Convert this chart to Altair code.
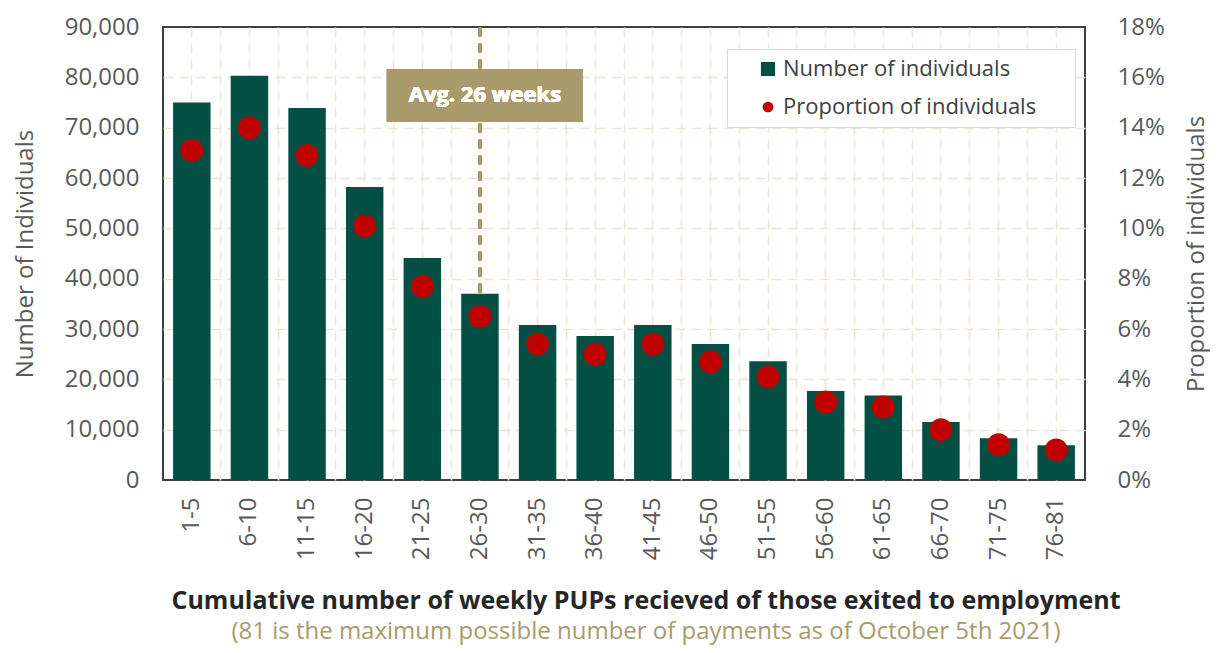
import altair as alt
import pandas as pd

categories = ["1-5", "6-10", "11-15", "16-20", "21-25", "26-30", "31-35", "36-40",
              "41-45", "46-50", "51-55", "56-60", "61-65", "66-70", "71-75", "76-81"]
counts = [75000, 80300, 73900, 58200, 44100, 37000, 30800, 28600,
          30800, 27000, 23600, 17700, 16800, 11500, 8300, 6900]
proportions = [0.131, 0.140, 0.129, 0.101, 0.077, 0.065, 0.054, 0.050,
               0.054, 0.047, 0.041, 0.031, 0.029, 0.020, 0.014, 0.012]
series_names = ["Number of individuals", "Proportion of individuals"]
avg_category = "26-30"
avg_label = "Avg. 26 weeks"
y_left_ticks = list(range(0, 90001, 10000))
y_right_ticks = [0.0, 0.02, 0.04, 0.06, 0.08, 0.10, 0.12, 0.14, 0.16, 0.18]

GREEN = "#034f43"
RED = "#c00000"
KHAKI = "#a99a6b"
GRID = "#ede4d3"
FONT = "Open Sans"

df = pd.DataFrame({"cat": categories, "count": counts, "prop": proportions,
                   "series": series_names[1]})

xscale = alt.Scale(domain=categories, paddingInner=0, paddingOuter=0)

bars = alt.Chart(df).mark_bar(color=GREEN, width=alt.RelativeBandSize(0.65)).encode(
    x=alt.X("cat:N", scale=xscale, sort=categories,
            axis=alt.Axis(title=None, labelAngle=270, labelFontSize=24, labelPadding=17,
                          grid=True, bandPosition=0.5, gridDash=[10, 6], gridColor=GRID,
                          gridWidth=1.5, labelColor="#595959", ticks=False, domain=False,
                          labelBaseline="middle", labelAlign="right")),
    y=alt.Y("count:Q", scale=alt.Scale(domain=[0, 90000], nice=False),
            axis=alt.Axis(title="Number of Individuals", values=y_left_ticks, format=",d",
                          grid=True, gridDash=[10, 6], gridColor=GRID, gridWidth=1.5,
                          gridOpacity={"condition": {"test": "datum.value <= 0 || datum.value >= 90000",
                                                     "value": 0}, "value": 1},
                          labelFontSize=24, titleFontSize=24, labelPadding=24,
                          titlePadding=27, labelColor="#595959", titleColor="#595959",
                          titleFontWeight="normal", ticks=False, domain=False)),
)

rule = alt.Chart(df).mark_rule(color=KHAKI, strokeWidth=3, strokeDash=[10, 6]).encode(
    x=alt.datum(avg_category),
    y=alt.datum(90000),
    y2=alt.datum(counts[categories.index(avg_category)]),
)

box = alt.Chart(df).mark_bar(color=KHAKI, width=196, xOffset=5).encode(
    x=alt.datum(avg_category),
    y=alt.datum(71200),
    y2=alt.datum(81600),
)

label = alt.Chart(df).mark_text(color="white", fontWeight="bold", fontSize=22, font=FONT,
                                dx=5).encode(
    x=alt.datum(avg_category),
    y=alt.datum(76400),
    text=alt.datum(avg_label),
)

left = alt.layer(bars, rule, box, label)

circle_path = "M -0.76 0 A 0.76 0.76 0 1 0 0.76 0 A 0.76 0.76 0 1 0 -0.76 0 Z"

points = alt.Chart(df).mark_point(filled=True, opacity=1, size=900).encode(
    x=alt.X("cat:N", scale=xscale, sort=categories,
            axis=alt.Axis(title=None, labels=False, ticks=False, domain=False, grid=True,
                          bandPosition=0, gridDash=[10, 6], gridColor=GRID, gridWidth=1.5,
                          gridOpacity={"condition": {"test": "datum.value === '1-5'",
                                                     "value": 0}, "value": 1},
                          orient="bottom")),
    y=alt.Y("prop:Q", scale=alt.Scale(domain=[0, 0.18], nice=False),
            axis=alt.Axis(title="Proportion of individuals", orient="right",
                          values=y_right_ticks, format=".0%", grid=False,
                          labelFontSize=24, titleFontSize=24, labelPadding=32,
                          titlePadding=44, titleAngle=270, labelColor="#595959",
                          titleColor="#595959", titleFontWeight="normal",
                          ticks=False, domain=False)),
    color=alt.Color("series:N", scale=alt.Scale(domain=series_names, range=[GREEN, RED]),
                    legend=alt.Legend(title="\u00a0", titleOrient="right", titleFontSize=22,
                                      titlePadding=30,
                                      orient="none", legendX=564, legendY=22,
                                      fillColor="white", strokeColor="#d9d9d9", padding=9,
                                      labelFontSize=22, labelColor="#404040", labelLimit=500,
                                      symbolSize=200, symbolOffset=21, labelOffset=4,
                                      rowPadding=16, symbolStrokeWidth=0)),
    shape=alt.Shape("series:N", scale=alt.Scale(domain=series_names,
                                                range=["square", circle_path])),
)

chart = alt.layer(left, points).resolve_scale(y="independent").resolve_axis(
    x="independent"
).properties(
    width=922,
    height=453,
    autosize=alt.AutoSizeParams(type="none"),
    padding={"left": 155, "top": 19, "right": 125, "bottom": 165},
    title=alt.Title(
        text="Cumulative number of weekly PUPs recieved of those exited to employment",
        subtitle="(81 is the maximum possible number of payments as of October 5th 2021)",
        orient="bottom", anchor="middle", dx=22, offset=29,
        font=FONT, fontSize=25, fontWeight="bold", color="#262626",
        subtitleFont=FONT, subtitleFontSize=24, subtitleColor=KHAKI, subtitlePadding=6,
    ),
).configure(
    font=FONT,
).configure_view(
    stroke="#404040", strokeWidth=2,
).configure_axis(
    labelFont=FONT, titleFont=FONT,
).configure_legend(
    labelFont=FONT,
)

chart.save("out.html", embed_options={"renderer": "svg", "actions": False})
